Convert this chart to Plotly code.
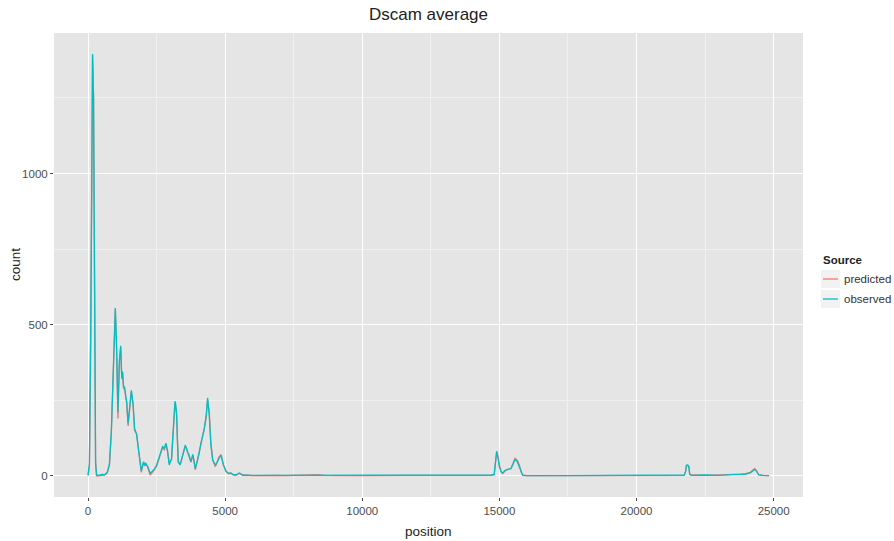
import plotly.graph_objects as go

# Read-depth profile along the Dscam locus
position = [
    0, 50, 100, 140, 165, 200, 240, 275, 310, 400, 500, 600, 700, 780, 850, 920,
    970, 995, 1040, 1090, 1140, 1190, 1230, 1260, 1290, 1340, 1380, 1410, 1460,
    1500, 1540, 1580, 1645, 1695, 1770, 1815, 1865, 1940, 1990, 2025, 2070, 2110,
    2170, 2220, 2265, 2350, 2420, 2500, 2560, 2630, 2720, 2780, 2840, 2900, 2960,
    3045, 3100, 3130, 3170, 3200, 3230, 3260, 3290, 3360, 3450, 3545, 3590, 3630,
    3690, 3750, 3820, 3870, 3910, 3990, 4060, 4120, 4240, 4310, 4360, 4420, 4480,
    4545, 4640, 4700, 4765, 4850, 4935, 5030, 5120, 5215, 5300, 5400, 5520, 5640,
    5800, 6000, 6400, 6800, 7200, 7600, 8000, 8400, 8600, 9000, 9500, 10000,
    10500, 11000, 11500, 12000, 12500, 13000, 13500, 14000, 14400, 14700, 14810,
    14860, 14900, 14950, 15000, 15070, 15120, 15200, 15265, 15350, 15425, 15500,
    15570, 15650, 15730, 15800, 15850, 16000, 16500, 17000, 17500, 18000, 18500,
    19000, 19500, 20000, 20500, 21000, 21500, 21740, 21790, 21820, 21870, 21910,
    21940, 22000, 22500, 23000, 23500, 23800, 24000, 24150, 24250, 24315, 24380,
    24460, 24600, 24830,
]

observed = [
    2, 40, 500, 1150, 1395, 1250, 500, 40, 3, 2, 5, 4, 12, 40, 150, 350,
    540, 555, 430, 210, 380, 430, 325, 345, 300, 291, 260, 247, 174,
    205, 250, 283, 237, 158, 137, 103, 70, 17, 35, 47, 35, 41,
    33, 15, 8, 16, 22, 36, 52, 74, 97, 91, 108, 82, 36,
    58, 130, 191, 247, 235, 203, 120, 47, 36, 69, 102, 90, 80,
    69, 47, 71, 45, 24, 52, 80, 113, 158, 200, 258, 202, 102,
    52, 36, 45, 58, 69, 36, 16, 8, 10, 4, 4, 10, 3,
    2, 2, 3, 1, 2, 1, 2, 2, 1, 2, 1, 2,
    1, 2, 1, 2, 3, 2, 2, 1, 2, 3, 5,
    50, 82, 60, 30, 12, 10, 18, 21, 23, 24, 40,
    54, 48, 30, 8, 2, 1, 2, 1, 1, 1, 2,
    1, 2, 1, 1, 2, 2, 3, 15, 35, 36, 30,
    5, 2, 3, 2, 4, 5, 6, 10, 18, 21, 15,
    3, 2, 1,
]

predicted = [
    2, 35, 480, 1130, 1390, 1260, 520, 50, 0, 0, 2, 3, 10, 35, 140, 340,
    530, 550, 420, 190, 370, 425, 320, 340, 290, 285, 255, 240, 165,
    200, 245, 280, 230, 150, 140, 110, 75, 12, 30, 45, 33, 40,
    30, 10, 3, 12, 20, 32, 48, 70, 95, 85, 105, 80, 42,
    55, 125, 185, 240, 225, 200, 115, 45, 38, 65, 98, 92, 78,
    70, 45, 68, 48, 20, 50, 78, 110, 155, 195, 250, 210, 110,
    55, 30, 42, 62, 70, 38, 14, 8, 8, 3, 2, 8, 2,
    3, 1, 2, 2, 1, 2, 1, 4, 2, 1, 1, 1,
    2, 1, 2, 2, 2, 1, 3, 2, 1, 2, 4,
    45, 78, 65, 35, 14, 8, 15, 20, 22, 26, 42,
    58, 52, 35, 12, 3, 1, 1, 2, 1, 2, 1,
    1, 2, 1, 2, 1, 2, 2, 14, 33, 35, 32,
    6, 3, 2, 3, 3, 6, 8, 12, 20, 24, 17,
    4, 2, 1,
]

series_names = ["predicted", "observed"]
series_colors = ["#F8766D", "#00BFC4"]

PANEL = "#E5E5E5"
KEY_BG = "#F2F2F2"
FONT = "Liberation Sans, Arial, sans-serif"


def expanded(lo, hi, frac=0.05):
    span = hi - lo
    return [lo - span * frac, hi + span * frac]


fig = go.Figure()
for name, ys, col in zip(series_names, [predicted, observed], series_colors):
    fig.add_trace(go.Scatter(
        x=position, y=ys, mode="lines", name=name,
        line=dict(color=col, width=1.3), showlegend=False,
    ))

all_counts = observed + predicted
x_range = expanded(min(position), max(position))
y_range = expanded(0, max(all_counts))

axis_common = dict(
    showline=False, zeroline=False,
    showgrid=True, gridcolor="#FFFFFF", gridwidth=1,
    ticks="outside", ticklen=3, tickcolor="#4D4D4D", tickwidth=1,
    tickfont=dict(family=FONT, size=11.5, color="#4D4D4D"),
)

fig.update_xaxes(
    range=x_range, tick0=0, dtick=5000, tickformat="d",
    minor=dict(showgrid=True, gridcolor="#F0F0F0", gridwidth=0.6, dtick=2500, tick0=0),
    **axis_common,
)
fig.update_yaxes(
    range=y_range, tick0=0, dtick=500, tickformat="d",
    minor=dict(showgrid=True, gridcolor="#F0F0F0", gridwidth=0.6, dtick=250, tick0=0),
    **axis_common,
)

W, H = 894, 541
L, R, T, B = 54, 91, 33, 44
pw, ph = W - L - R, H - T - B


def px_x(x):
    return (x - L) / pw


def px_y(y):
    return (H - B - y) / ph


annotations = [
    dict(text="position", x=0.5, y=px_y(531), xref="paper", yref="paper",
         showarrow=False, font=dict(family=FONT, size=13.5, color="#222222"),
         xanchor="center", yanchor="middle"),
    dict(text="count", x=px_x(15), y=0.5, xref="paper", yref="paper",
         showarrow=False, textangle=-90, font=dict(family=FONT, size=13.5, color="#222222"),
         xanchor="center", yanchor="middle"),
    dict(text="<b>Source</b>", x=px_x(821), y=px_y(260), xref="paper", yref="paper",
         showarrow=False, font=dict(family=FONT, size=11.5, color="#222222"),
         xanchor="left", yanchor="middle"),
]

shapes = []
key_rows = [279, 299]
for name, col, yc in zip(series_names, series_colors, key_rows):
    shapes.append(dict(
        type="rect", xref="paper", yref="paper",
        x0=px_x(821), x1=px_x(840), y0=px_y(yc - 9), y1=px_y(yc + 9),
        fillcolor=KEY_BG, line=dict(width=0), layer="above",
    ))
    shapes.append(dict(
        type="line", xref="paper", yref="paper",
        x0=px_x(823), x1=px_x(838), y0=px_y(yc), y1=px_y(yc),
        line=dict(color=col, width=1.3), layer="above",
    ))
    annotations.append(dict(
        text=name, x=px_x(842), y=px_y(yc), xref="paper", yref="paper",
        showarrow=False, font=dict(family=FONT, size=11.5, color="#333333"),
        xanchor="left", yanchor="middle",
    ))

fig.update_layout(
    width=W, height=H,
    margin=dict(l=L, r=R, t=T, b=B),
    paper_bgcolor="#FFFFFF", plot_bgcolor=PANEL,
    title=dict(text="Dscam average", x=(L + pw / 2) / W, xanchor="center",
               y=1 - 14 / H, yanchor="middle",
               font=dict(family=FONT, size=17, color="#222222")),
    annotations=annotations,
    shapes=shapes,
    showlegend=False,
)

fig.write_html("out.html")
